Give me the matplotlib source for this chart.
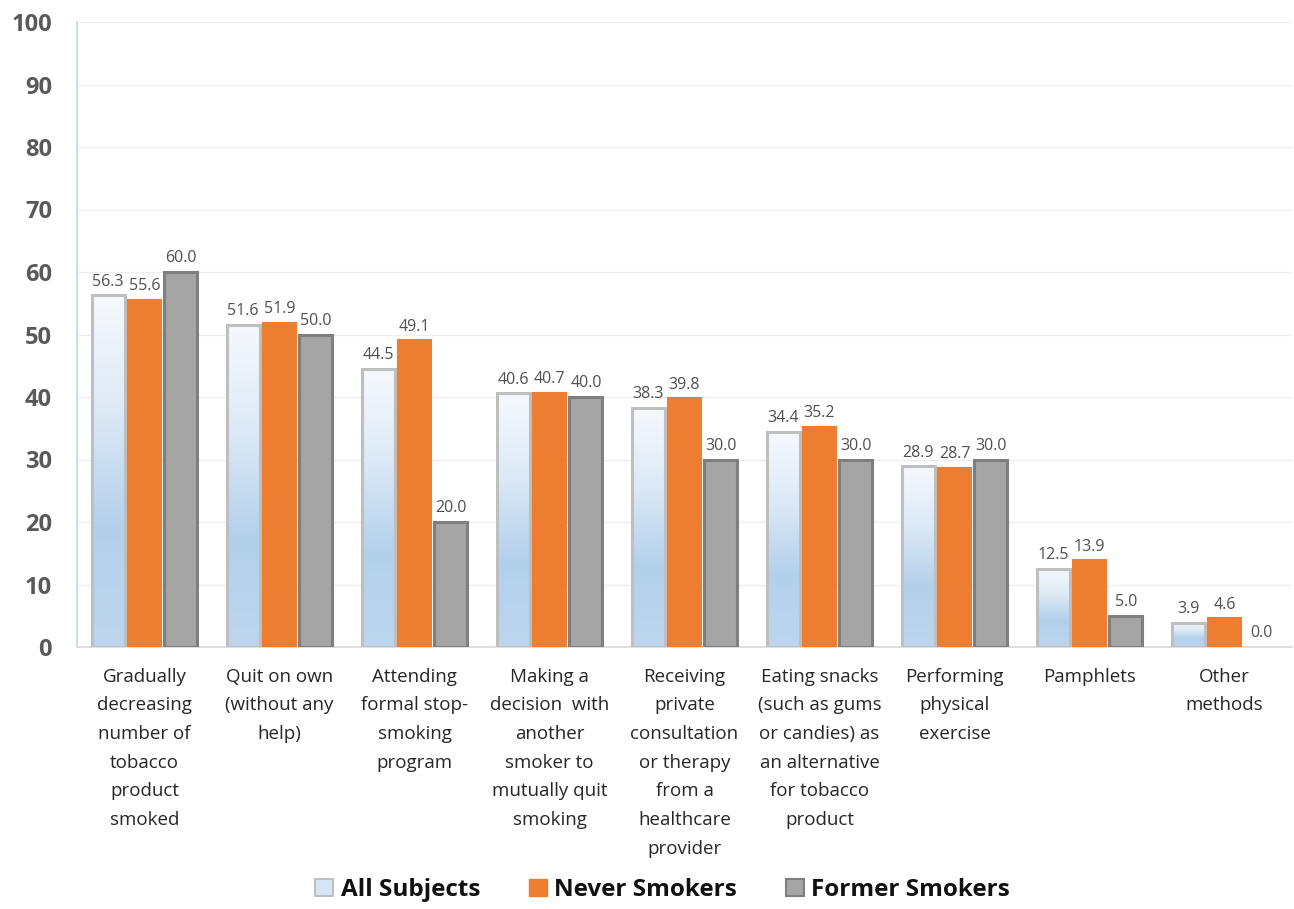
import numpy as np
import matplotlib
matplotlib.use("Agg")
import matplotlib.pyplot as plt
from matplotlib.colors import LinearSegmentedColormap
from matplotlib.patches import Patch

categories = [
    "Gradually\ndecreasing\nnumber of\ntobacco\nproduct\nsmoked",
    "Quit on own\n(without any\nhelp)",
    "Attending\nformal stop-\nsmoking\nprogram",
    "Making a\ndecision  with\nanother\nsmoker to\nmutually quit\nsmoking",
    "Receiving\nprivate\nconsultation\nor therapy\nfrom a\nhealthcare\nprovider",
    "Eating snacks\n(such as gums\nor candies) as\nan alternative\nfor tobacco\nproduct",
    "Performing\nphysical\nexercise",
    "Pamphlets",
    "Other\nmethods",
]
all_subjects = [56.3, 51.6, 44.5, 40.6, 38.3, 34.4, 28.9, 12.5, 3.9]
never_smokers = [55.6, 51.9, 49.1, 40.7, 39.8, 35.2, 28.7, 13.9, 4.6]
former_smokers = [60.0, 50.0, 20.0, 40.0, 30.0, 30.0, 30.0, 5.0, 0.0]
series_names = ["All Subjects", "Never Smokers", "Former Smokers"]
yticks = [0, 10, 20, 30, 40, 50, 60, 70, 80, 90, 100]

plt.rcParams['font.family'] = ['Open Sans', 'DejaVu Sans']

fig = plt.figure(figsize=(12.94, 9.09), dpi=100)
ax = fig.add_axes([77/1294, 1-647/909, (1292-77)/1294, (647-22)/909])

x = np.arange(len(categories))
w = 0.245
step = 0.27

orange = "#ED7D31"
gray = "#A5A5A5"
gray_edge = "#7F7F7F"
blue_edge = "#BFBFBF"
cmap = LinearSegmentedColormap.from_list("g", ["#BDD6EE", "#B3D0EB", "#DCE9F6", "#F6F9FD"])
grad = np.linspace(0, 1, 256).reshape(-1, 1)

def lw(vals, width):
    return [width if v > 0 else 0 for v in vals]

b1 = ax.bar(x - step, all_subjects, w, color="none", edgecolor=blue_edge,
            linewidth=lw(all_subjects, 2.2), zorder=3)
for rect in b1:
    x0, y0 = rect.get_x(), rect.get_y()
    h = rect.get_height()
    im = ax.imshow(grad, cmap=cmap, aspect="auto", origin="lower",
                   extent=[x0, x0 + rect.get_width(), y0, y0 + h], zorder=2)
    im.set_clip_path(rect)
b2 = ax.bar(x, never_smokers, w, color=orange, edgecolor=orange,
            linewidth=lw(never_smokers, 1.5), zorder=3)
b3 = ax.bar(x + step, former_smokers, w, color=gray, edgecolor=gray_edge,
            linewidth=lw(former_smokers, 2.2), zorder=3)

for bars, vals in [(b1, all_subjects), (b2, never_smokers), (b3, former_smokers)]:
    for rect, v in zip(bars, vals):
        ax.annotate(f"{v:.1f}", (rect.get_x() + rect.get_width()/2, v),
                    xytext=(0, 4), textcoords="offset points",
                    ha="center", va="bottom", fontsize=11.5, color="#505050")

ax.set_xlim(-0.5, len(categories) - 0.5)
ax.set_ylim(0, 100)
ax.set_yticks(yticks)
ax.set_yticklabels([str(t) for t in yticks], fontsize=17, fontweight="bold", color="#595959")
ax.set_xticks(x)
ax.set_xticklabels(categories, fontsize=13.5, color="#262626", linespacing=1.76, va="top")
ax.tick_params(axis="both", length=0)
ax.tick_params(axis="x", pad=15)
ax.tick_params(axis="y", pad=18)
ax.grid(axis="y", color="#EDEDED", linewidth=1, zorder=0)
ax.set_axisbelow(True)
for s in ["top", "right"]:
    ax.spines[s].set_visible(False)
ax.spines["left"].set_color("#BDD7EE")
ax.spines["left"].set_linewidth(1.2)
ax.spines["bottom"].set_color("#D9D9D9")
ax.spines["bottom"].set_linewidth(1.2)

handles = [
    Patch(facecolor="#D6E6F5", edgecolor=blue_edge, linewidth=1.5),
    Patch(facecolor=orange, edgecolor=orange),
    Patch(facecolor=gray, edgecolor=gray_edge, linewidth=1.5),
]
fig.legend(handles, series_names, loc="center", bbox_to_anchor=(0.512, 1-890/909),
           ncol=3, frameon=False, prop={"size": 17.5, "weight": "bold"},
           labelcolor="#111111",
           handlelength=0.75, handleheight=0.75, handletextpad=0.3, columnspacing=2.0)

fig.savefig("out.png", dpi=100, facecolor="white")
